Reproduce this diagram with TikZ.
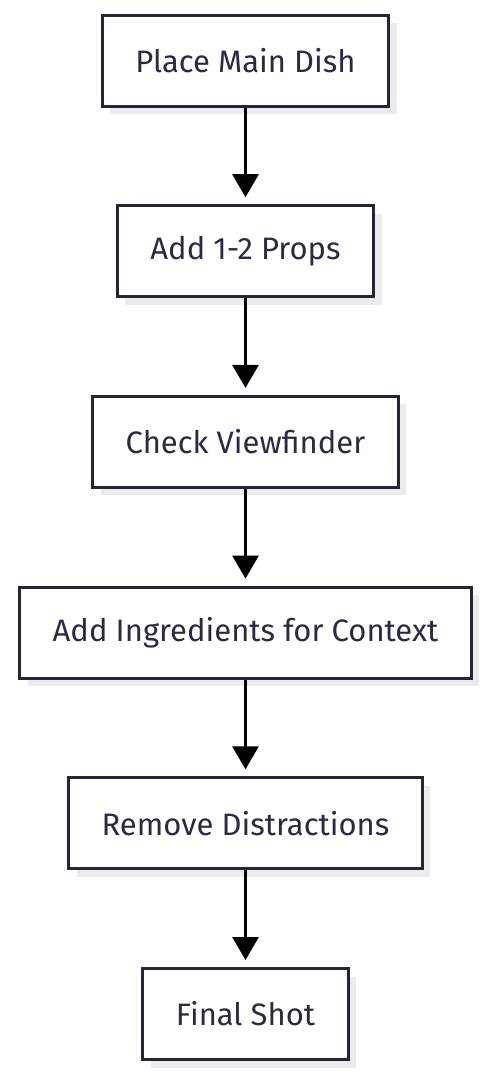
\documentclass[tikz,border=0pt]{standalone}
\usepackage{fontspec}
\setmainfont{Fira Sans}
\usetikzlibrary{arrows.meta,positioning,shadows}
\definecolor{boxline}{HTML}{24243A}
\definecolor{boxtext}{HTML}{2A2A44}
\definecolor{shade}{HTML}{EBEBEB}
\begin{document}
\begin{tikzpicture}[>={Triangle[width=26pt,length=23pt]},node distance=96.7pt,
  font=\fontsize{31}{36}\selectfont,
  stepbox/.style={draw=boxline,line width=3pt,fill=white,text=boxtext,
    minimum height=91pt,inner xsep=33pt,
    drop shadow={shadow xshift=8pt,shadow yshift=-8pt,fill=shade,opacity=1}},
  flow/.style={->,line width=3pt,shorten >=7pt}]
\useasboundingbox (-245.5pt,60.5pt) rectangle (248.5pt,-1019.5pt);
\node[stepbox] (dish) at (0,0) {Place Main Dish};
\node[stepbox, below=of dish] (props) {Add 1-2 Props};
\node[stepbox, below=of props] (viewfinder) {Check Viewfinder};
\node[stepbox, below=of viewfinder] (ingredients) {Add Ingredients for Context};
\node[stepbox, below=of ingredients] (distractions) {Remove Distractions};
\node[stepbox, below=of distractions] (finalshot) {Final Shot};
\draw[flow] (dish) -- (props);
\draw[flow] (props) -- (viewfinder);
\draw[flow] (viewfinder) -- (ingredients);
\draw[flow] (ingredients) -- (distractions);
\draw[flow] (distractions) -- (finalshot);
\end{tikzpicture}
\end{document}
